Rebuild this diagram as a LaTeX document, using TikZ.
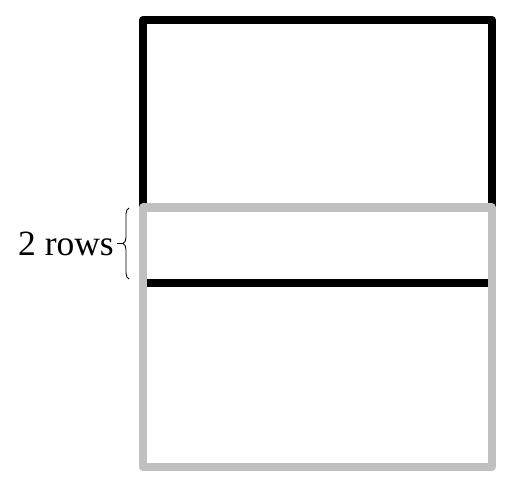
\documentclass[tikz,border=0pt]{standalone}
\usepackage{fontspec}
\setmainfont{Liberation Serif}
\usetikzlibrary{decorations.pathreplacing}
\tikzset{
  frame/.style={line width=8pt, line join=round},
  bracestyle/.style={decorate, decoration={brace, amplitude=6pt}, line width=0.9pt},
}
\begin{document}
\begin{tikzpicture}[x=1pt, y=-1pt]
\useasboundingbox (0,0) rectangle (511,489);
\draw[frame, black] (143,20) rectangle (492,283);
\draw[frame, color={rgb,255:red,192;green,192;blue,192}] (143,207.5) rectangle (491.5,467);
\coordinate (bt) at (129,279);
\coordinate (bb) at (129,208);
\draw[bracestyle] (bt) -- (bb);
\coordinate (tip) at (123,243.5);
\coordinate (tick) at (117,243.5);
\draw[line width=0.9pt] (tip) -- (tick);
\node[anchor=east, font=\fontsize{35.5}{42}\selectfont, inner sep=0pt] (lbl) at (114,243.5) {2 rows};
\end{tikzpicture}
\end{document}
